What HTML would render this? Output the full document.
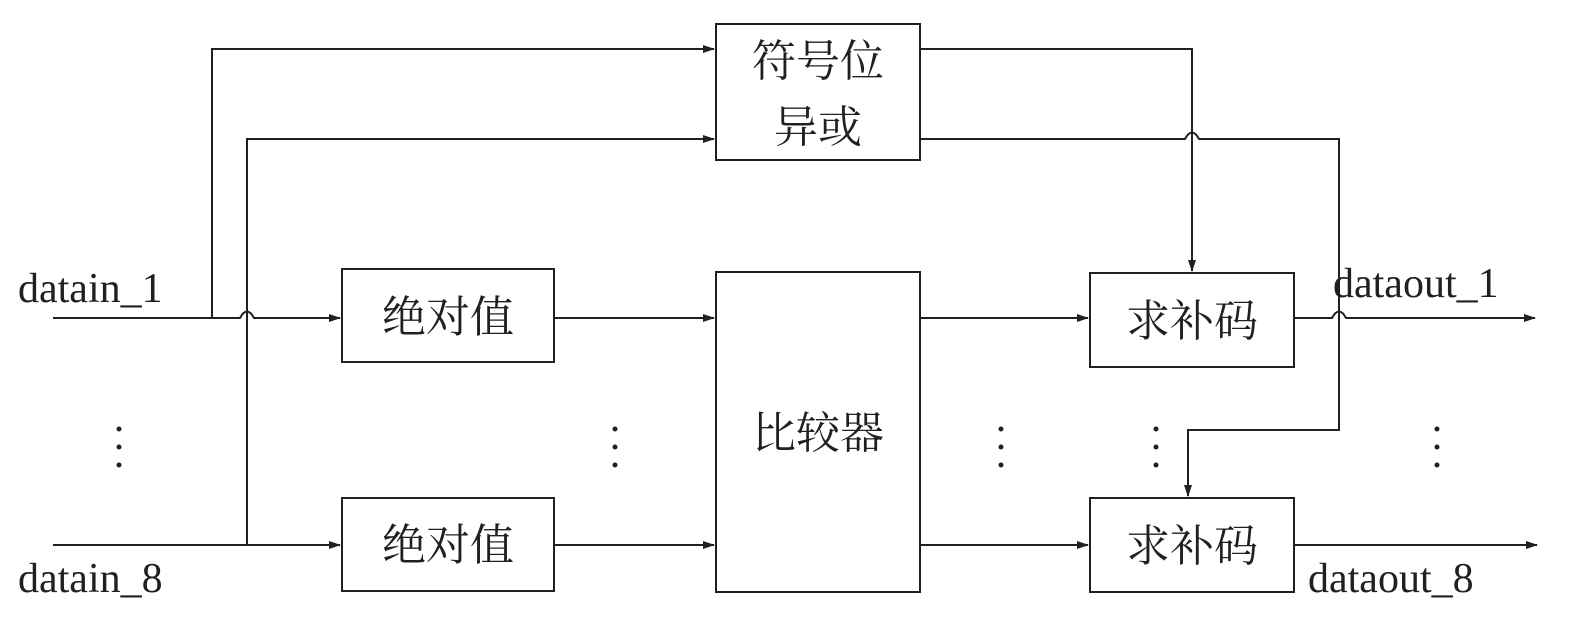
<!DOCTYPE html>
<html><head><meta charset="utf-8"><style>
html,body{margin:0;padding:0;background:#fff;}
svg{display:block;}
text{font-family:"Liberation Serif","Noto Serif CJK SC",serif;fill:#231f20;}
.cn{font-size:44px;}
.en{font-size:42px;}
</style></head><body>
<svg width="1575" height="640" viewBox="0 0 1575 640" xmlns="http://www.w3.org/2000/svg">
<defs><marker id="a" markerWidth="12" markerHeight="8" refX="11" refY="4" orient="auto" markerUnits="userSpaceOnUse"><path d="M0,0 L12,4 L0,8 Z" fill="#231f20"/></marker></defs>
<g stroke="#231f20" stroke-width="2" fill="none">
<rect x="716" y="24" width="204" height="136"/>
<rect x="342" y="269" width="212" height="93"/>
<rect x="342" y="498" width="212" height="93"/>
<rect x="716" y="272" width="204" height="320"/>
<rect x="1090" y="273" width="204" height="94"/>
<rect x="1090" y="498" width="204" height="94"/>
<!-- inputs -->
<path d="M53,318 H240 Q247,305 254,318 H340" marker-end="url(#a)"/>
<path d="M212,318 V49 H714" marker-end="url(#a)"/>
<path d="M53,545 H340" marker-end="url(#a)"/>
<path d="M247,545 V139 H714" marker-end="url(#a)"/>
<path d="M554,318 H714" marker-end="url(#a)"/>
<path d="M554,545 H714" marker-end="url(#a)"/>
<path d="M920,318 H1088" marker-end="url(#a)"/>
<path d="M920,545 H1088" marker-end="url(#a)"/>
<!-- sign -->
<path d="M920,49 H1192 V271" marker-end="url(#a)"/>
<path d="M920,139 H1185 Q1192,126 1199,139 H1339 V430 H1188 V496" marker-end="url(#a)"/>
<path d="M1294,318 H1332 Q1339,305 1346,318 H1535" marker-end="url(#a)"/>
<path d="M1294,545 H1537" marker-end="url(#a)"/>
</g>
<g fill="#231f20">
<circle cx="119" cy="429" r="2.5"/><circle cx="119" cy="447" r="2.5"/><circle cx="119" cy="465" r="2.5"/>
<circle cx="615" cy="429" r="2.5"/><circle cx="615" cy="447" r="2.5"/><circle cx="615" cy="465" r="2.5"/>
<circle cx="1001" cy="429" r="2.5"/><circle cx="1001" cy="447" r="2.5"/><circle cx="1001" cy="465" r="2.5"/>
<circle cx="1156" cy="429" r="2.5"/><circle cx="1156" cy="447" r="2.5"/><circle cx="1156" cy="465" r="2.5"/>
<circle cx="1437" cy="429" r="2.5"/><circle cx="1437" cy="447" r="2.5"/><circle cx="1437" cy="465" r="2.5"/>
</g>
<text class="cn" x="818" y="76" text-anchor="middle">符号位</text>
<text class="cn" x="818" y="142" text-anchor="middle">异或</text>
<text class="cn" x="448" y="332" text-anchor="middle">绝对值</text>
<text class="cn" x="448" y="560" text-anchor="middle">绝对值</text>
<text class="cn" x="818" y="448" text-anchor="middle">比较器</text>
<text class="cn" x="1192" y="336" text-anchor="middle">求补码</text>
<text class="cn" x="1192" y="561" text-anchor="middle">求补码</text>
<text class="en" x="18" y="302">datain_1</text>
<text class="en" x="18" y="592">datain_8</text>
<text class="en" x="1333" y="297">dataout_1</text>
<text class="en" x="1308" y="592">dataout_8</text>
</svg>
</body></html>
